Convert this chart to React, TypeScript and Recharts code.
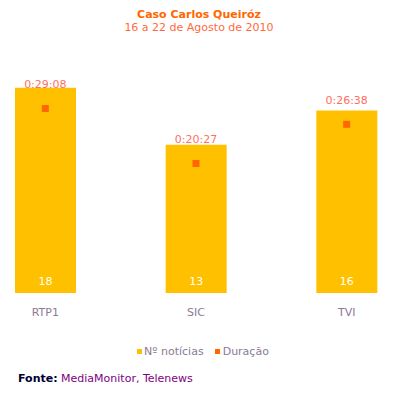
import React from "react";
import { ComposedChart, Bar, Line, XAxis, YAxis, LabelList } from "recharts";

const categories = ["RTP1", "SIC", "TVI"];
const noticias = [18, 13, 16];
const duracaoLabels = ["0:29:08", "0:20:27", "0:26:38"];
const duracaoSeconds = [1748, 1227, 1598];

const data = categories.map((c, i) => ({
  name: c,
  noticias: noticias[i],
  duracao: duracaoSeconds[i],
  durLabel: duracaoLabels[i],
}));

const FONT = "'DejaVu Sans', Verdana, sans-serif";
const BAR = "#FFC000";
const MARK = "#FF6600";
const LABEL = "#FF6F5E";
const GREY = "#8A7A95";

const Square = (props: any) => {
  const { cx, cy } = props;
  if (cx == null || cy == null) return null;
  return <rect x={cx - 3.5} y={cy - 3.5} width={7} height={7} fill={MARK} />;
};

export default function App() {
  return (
    <div
      style={{
        position: "absolute",
        left: 0,
        top: 0,
        width: 398,
        height: 398,
        overflow: "hidden",
        background: "#fff",
        fontFamily: FONT,
      }}
    >
      <div
        style={{
          position: "absolute",
          top: 8,
          left: 0,
          width: 398,
          textAlign: "center",
          fontSize: 11,
          lineHeight: "13px",
          color: MARK,
          fontWeight: "bold",
        }}
      >
        Caso Carlos Queiróz
      </div>
      <div
        style={{
          position: "absolute",
          top: 21,
          left: 0,
          width: 398,
          textAlign: "center",
          fontSize: 11,
          lineHeight: "13px",
          color: "#FF6A3D",
        }}
      >
        16 a 22 de Agosto de 2010
      </div>
      <div style={{ position: "absolute", left: -30, top: 0 }}>
        <ComposedChart
          width={452}
          height={398}
          data={data}
          margin={{ top: 65, right: 0, bottom: 75, left: 0 }}
        >
          <XAxis
            dataKey="name"
            axisLine={false}
            tickLine={false}
            tickMargin={9}
            height={30}
            tick={{ fill: GREY, fontSize: 11, fontFamily: FONT }}
          />
          <YAxis yAxisId="left" hide domain={[0, 20]} />
          <YAxis yAxisId="right" orientation="right" hide domain={[0, 2160]} />
          <Bar
            yAxisId="left"
            dataKey="noticias"
            fill={BAR}
            barSize={61}
            isAnimationActive={false}
          >
            <LabelList
              dataKey="noticias"
              position="insideBottom"
              offset={8}
              fill="#fff"
              fontSize={11}
              fontFamily={FONT}
            />
          </Bar>
          <Line
            yAxisId="right"
            dataKey="duracao"
            stroke="none"
            dot={<Square />}
            activeDot={false}
            isAnimationActive={false}
          >
            <LabelList
              dataKey="durLabel"
              position="top"
              offset={20}
              fill={LABEL}
              fontSize={11}
              fontFamily={FONT}
            />
          </Line>
        </ComposedChart>
      </div>
      <div
        style={{
          position: "absolute",
          top: 345,
          left: 0,
          width: 398,
          display: "flex",
          justifyContent: "center",
          alignItems: "center",
          fontSize: 11,
          lineHeight: "13px",
          color: GREY,
          paddingLeft: 8,
          boxSizing: "border-box",
        }}
      >
        <span style={{ display: "inline-flex", alignItems: "center", marginRight: 11 }}>
          <span style={{ width: 5, height: 5, background: BAR, marginRight: 2, display: "inline-block" }} />
          Nº notícias
        </span>
        <span style={{ display: "inline-flex", alignItems: "center" }}>
          <span style={{ width: 5, height: 5, background: MARK, marginRight: 3, display: "inline-block" }} />
          Duração
        </span>
      </div>
      <div
        style={{
          position: "absolute",
          top: 372,
          left: 18,
          fontSize: 11,
          lineHeight: "13px",
          color: "#800080",
        }}
      >
        <span style={{ fontWeight: "bold", color: "#000033" }}>Fonte:</span> MediaMonitor, Telenews
      </div>
    </div>
  );
}
